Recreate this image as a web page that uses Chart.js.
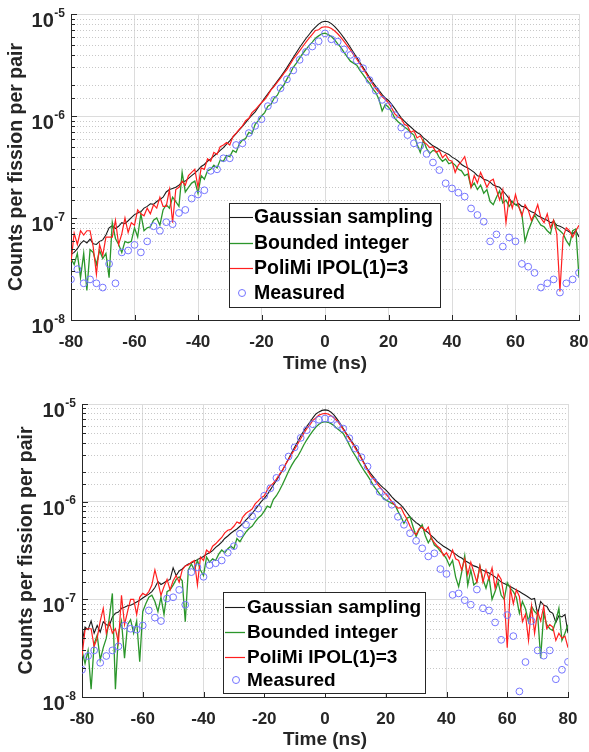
<!DOCTYPE html>
<html>
<head>
<meta charset="utf-8">
<script src="https://cdn.jsdelivr.net/npm/chart.js@4.4.0/dist/chart.umd.min.js"></script>
<style>
  body { margin: 0; background: #fff; width: 589px; height: 752px; overflow: hidden; }
  .panel { position: absolute; left: 0; width: 589px; height: 376px; }
</style>
</head>
<body>
<div class="panel" style="top:0"><canvas id="topChart" width="589" height="376"></canvas></div>
<div class="panel" style="top:376px"><canvas id="bottomChart" width="589" height="376"></canvas></div>
<script>
// ---------- DATA ----------
// simulated curves, 1 ns bins
const timeFine = [
  -80, -79, -78, -77, -76, -75, -74, -73, -72, -71,
  -70, -69, -68, -67, -66, -65, -64, -63, -62, -61,
  -60, -59, -58, -57, -56, -55, -54, -53, -52, -51,
  -50, -49, -48, -47, -46, -45, -44, -43, -42, -41,
  -40, -39, -38, -37, -36, -35, -34, -33, -32, -31,
  -30, -29, -28, -27, -26, -25, -24, -23, -22, -21,
  -20, -19, -18, -17, -16, -15, -14, -13, -12, -11,
  -10, -9, -8, -7, -6, -5, -4, -3, -2, -1,
  0,
  1, 2, 3, 4, 5, 6, 7, 8, 9, 10,
  11, 12, 13, 14, 15, 16, 17, 18, 19, 20,
  21, 22, 23, 24, 25, 26, 27, 28, 29, 30,
  31, 32, 33, 34, 35, 36, 37, 38, 39, 40,
  41, 42, 43, 44, 45, 46, 47, 48, 49, 50,
  51, 52, 53, 54, 55, 56, 57, 58, 59, 60,
  61, 62, 63, 64, 65, 66, 67, 68, 69, 70,
  71, 72, 73, 74, 75, 76, 77, 78, 79, 80
];
// measured, 2 ns bins
const timeMeas = [
  -80, -78, -76, -74, -72, -70, -68, -66, -64, -62,
  -60, -58, -56, -54, -52, -50, -48, -46, -44, -42,
  -40, -38, -36, -34, -32, -30, -28, -26, -24, -22,
  -20, -18, -16, -14, -12, -10, -8, -6, -4, -2,
  0,
  2, 4, 6, 8, 10, 12, 14, 16, 18, 20,
  22, 24, 26, 28, 30, 32, 34, 36, 38, 40,
  42, 44, 46, 48, 50, 52, 54, 56, 58, 60,
  62, 64, 66, 68, 70, 72, 74, 76, 78, 80
];

const xTicks = [-80, -60, -40, -20, 0, 20, 40, 60, 80];
const yDecades = [1e-8, 1e-7, 1e-6, 1e-5];
const seriesNames = ["Gaussian sampling", "Bounded integer", "PoliMi IPOL(1)=3", "Measured"];

// top panel
const gaussTop = [
  4.4e-8, 4.6e-8, 5.0e-8, 5.6e-8, 6.0e-8, 5.7e-8, 6.2e-8, 5.6e-8, 5.5e-8, 5.9e-8,
  6.1e-8, 6.8e-8, 8.0e-8, 8.4e-8, 7.9e-8, 8.3e-8, 9.0e-8, 8.8e-8, 9.4e-8, 1.01e-7,
  1.08e-7, 1.12e-7, 1.15e-7, 1.25e-7, 1.3e-7, 1.38e-7, 1.36e-7, 1.45e-7, 1.52e-7, 1.6e-7,
  1.8e-7, 1.9e-7, 1.95e-7, 2.0e-7, 2.1e-7, 2.25e-7, 2.3e-7, 2.45e-7, 2.6e-7, 2.75e-7,
  2.95e-7, 3.2e-7, 3.35e-7, 3.6e-7, 3.8e-7, 4.05e-7, 4.3e-7, 4.6e-7, 4.9e-7, 5.3e-7,
  5.7e-7, 6.2e-7, 6.7e-7, 7.3e-7, 7.9e-7, 8.6e-7, 9.4e-7, 1.02e-6, 1.1e-6, 1.22e-6,
  1.35e-6, 1.5e-6, 1.65e-6, 1.82e-6, 2.0e-6, 2.2e-6, 2.42e-6, 2.68e-6, 2.98e-6, 3.35e-6,
  3.75e-6, 4.2e-6, 4.7e-6, 5.2e-6, 5.75e-6, 6.3e-6, 6.9e-6, 7.45e-6, 7.95e-6, 8.35e-6,
  8.5e-6,
  8.4e-6, 8.05e-6, 7.55e-6, 7.0e-6, 6.4e-6, 5.8e-6, 5.25e-6, 4.7e-6, 4.2e-6, 3.75e-6,
  3.35e-6, 3.0e-6, 2.68e-6, 2.4e-6, 2.15e-6, 1.95e-6, 1.78e-6, 1.62e-6, 1.5e-6, 1.42e-6,
  1.3e-6, 1.18e-6, 1.06e-6, 9.6e-7, 8.9e-7, 8.3e-7, 7.8e-7, 7.3e-7, 6.9e-7, 6.6e-7,
  6.1e-7, 5.8e-7, 5.4e-7, 5.1e-7, 4.9e-7, 4.7e-7, 4.5e-7, 4.35e-7, 4.2e-7, 3.95e-7,
  3.8e-7, 3.6e-7, 3.35e-7, 3.2e-7, 3.1e-7, 2.95e-7, 2.8e-7, 2.6e-7, 2.55e-7, 2.4e-7,
  2.35e-7, 2.25e-7, 2.1e-7, 2.05e-7, 2.0e-7, 1.85e-7, 1.7e-7, 1.55e-7, 1.42e-7, 1.35e-7,
  1.38e-7, 1.3e-7, 1.28e-7, 1.2e-7, 1.15e-7, 1.12e-7, 1.05e-7, 1.02e-7, 9.8e-8, 9.5e-8,
  9.0e-8, 9.2e-8, 8.5e-8, 8.3e-8, 8.0e-8, 7.6e-8, 7.3e-8, 7.0e-8, 7.5e-8, 6.5e-8
];
const boundedTop = [
  4.0e-8, 3.5e-8, 4.5e-8, 2.6e-8, 4.5e-8, 1.95e-8, 4.9e-8, 4.6e-8, 3.5e-8, 4.8e-8,
  4.0e-8, 4.5e-8, 2.6e-8, 9.0e-8, 6.3e-8, 5.5e-8, 4.6e-8, 5.9e-8, 5.7e-8, 5.9e-8,
  8.0e-8, 6.5e-8, 1.1e-7, 7.5e-8, 8.0e-8, 8.2e-8, 9.5e-8, 1.0e-7, 8.5e-8, 1.2e-7,
  1.35e-7, 1.25e-7, 1.6e-7, 1.45e-7, 1.3e-7, 2.8e-7, 1.8e-7, 2.0e-7, 2.2e-7, 2.3e-7,
  1.75e-7, 2.6e-7, 2.4e-7, 2.9e-7, 3.0e-7, 3.3e-7, 3.1e-7, 3.7e-7, 3.6e-7, 4.1e-7,
  4.0e-7, 4.6e-7, 4.4e-7, 5.3e-7, 5.8e-7, 6.0e-7, 6.9e-7, 6.7e-7, 8.3e-7, 9.0e-7,
  1.0e-6, 1.08e-6, 1.25e-6, 1.3e-6, 1.5e-6, 1.6e-6, 1.85e-6, 2.0e-6, 2.3e-6, 2.6e-6,
  3.0e-6, 3.3e-6, 3.7e-6, 4.1e-6, 4.5e-6, 4.9e-6, 5.3e-6, 5.8e-6, 6.1e-6, 6.4e-6,
  6.5e-6,
  6.3e-6, 6.0e-6, 5.6e-6, 5.1e-6, 4.7e-6, 4.2e-6, 3.8e-6, 3.45e-6, 3.3e-6, 3.15e-6,
  2.8e-6, 2.55e-6, 2.3e-6, 2.1e-6, 1.85e-6, 1.7e-6, 1.45e-6, 1.12e-6, 1.3e-6, 1.22e-6,
  1.1e-6, 9.5e-7, 8.8e-7, 8.3e-7, 7.8e-7, 7.4e-7, 6.9e-7, 6.5e-7, 5.3e-7, 4.4e-7,
  5.8e-7, 4.8e-7, 4.3e-7, 4.6e-7, 4.5e-7, 3.9e-7, 3.6e-7, 3.8e-7, 3.4e-7, 3.5e-7,
  3.3e-7, 3.0e-7, 2.9e-7, 2.6e-7, 2.7e-7, 2.0e-7, 2.2e-7, 1.9e-7, 2.1e-7, 1.75e-7,
  1.9e-7, 1.45e-7, 1.35e-7, 1.6e-7, 1.85e-7, 1.4e-7, 1.5e-7, 1.3e-7, 1.45e-7, 1.35e-7,
  1.3e-7, 1.1e-7, 5.9e-8, 7.5e-8, 9.0e-8, 1.07e-7, 9.5e-8, 8.5e-8, 8.2e-8, 7.5e-8,
  7.0e-8, 9.5e-8, 8.0e-8, 7.5e-8, 7.0e-8, 6.0e-8, 5.4e-8, 7.5e-8, 7.8e-8, 2.6e-8
];
const polimiTop = [
  3.7e-8, 7.1e-8, 5.5e-8, 7.5e-8, 6.8e-8, 7.5e-8, 7.5e-8, 5.2e-8, 2.8e-8, 5.5e-8,
  4.3e-8, 6.5e-8, 6.5e-8, 6.5e-8, 9.5e-8, 5.5e-8, 7.0e-8, 1.0e-7, 7.2e-8, 9.0e-8,
  8.5e-8, 1.2e-7, 1.1e-7, 1.05e-7, 1.25e-7, 1.1e-7, 1.35e-7, 1.25e-7, 1.6e-7, 1.3e-7,
  1.3e-7, 1.9e-7, 9.0e-8, 1.9e-7, 2.0e-7, 2.3e-7, 2.1e-7, 2.6e-7, 2.8e-7, 3.0e-7,
  2.0e-7, 3.1e-7, 3.0e-7, 3.8e-7, 3.6e-7, 4.4e-7, 4.2e-7, 5.0e-7, 5.2e-7, 5.5e-7,
  5.2e-7, 6.3e-7, 6.8e-7, 7.4e-7, 8.0e-7, 9.0e-7, 9.5e-7, 1.08e-6, 1.15e-6, 1.25e-6,
  1.35e-6, 1.45e-6, 1.6e-6, 1.8e-6, 1.95e-6, 2.15e-6, 2.35e-6, 2.6e-6, 2.85e-6, 3.2e-6,
  3.6e-6, 3.95e-6, 4.35e-6, 4.8e-6, 5.3e-6, 5.8e-6, 6.3e-6, 6.9e-6, 7.0e-6, 7.4e-6,
  7.5e-6,
  7.45e-6, 7.2e-6, 6.85e-6, 6.4e-6, 5.9e-6, 5.4e-6, 4.9e-6, 4.45e-6, 4.0e-6, 3.6e-6,
  3.25e-6, 2.9e-6, 2.6e-6, 2.3e-6, 2.05e-6, 1.85e-6, 1.7e-6, 1.55e-6, 1.45e-6, 1.35e-6,
  1.2e-6, 1.05e-6, 9.8e-7, 9.4e-7, 8.3e-7, 8.0e-7, 6.9e-7, 7.2e-7, 6.1e-7, 6.4e-7,
  5.6e-7, 5.3e-7, 4.9e-7, 5.0e-7, 4.4e-7, 4.6e-7, 3.9e-7, 4.2e-7, 3.7e-7, 3.6e-7,
  2.8e-7, 3.3e-7, 3.6e-7, 4.0e-7, 3.0e-7, 2.0e-7, 2.6e-7, 2.2e-7, 2.8e-7, 2.4e-7,
  2.0e-7, 2.3e-7, 2.4e-7, 1.9e-7, 1.5e-7, 1.9e-7, 9.0e-8, 1.6e-7, 1.25e-7, 1.7e-7,
  1.3e-7, 1.05e-7, 1.35e-7, 1.2e-7, 9.5e-8, 1.1e-7, 1.35e-7, 1.0e-7, 9.0e-8, 1.1e-7,
  8.0e-8, 9.5e-8, 7.0e-8, 1.9e-8, 6.5e-8, 8.0e-8, 7.5e-8, 6.5e-8, 7.5e-8, 8.5e-8
];
const measuredTop = [
  2.5e-8, 3.15e-8, 2.29e-8, 2.5e-8, 2.29e-8, 2.08e-8, 3.55e-8, 2.29e-8, 4.6e-8, 4.8e-8,
  5.45e-8, 4.6e-8, 5.9e-8, 8.3e-8, 7.5e-8, 9.1e-8, 8.7e-8, 1.12e-7, 1.2e-7, 1.55e-7,
  1.7e-7, 1.87e-7, 2.9e-7, 3.0e-7, 3.85e-7, 3.85e-7, 5.2e-7, 5.4e-7, 6.8e-7, 8.0e-7,
  9.3e-7, 1.25e-6, 1.44e-6, 1.87e-6, 2.29e-6, 2.8e-6, 3.55e-6, 4.25e-6, 4.8e-6, 5.4e-6,
  6.45e-6,
  5.65e-6, 5.36e-6, 4.5e-6, 3.97e-6, 3.5e-6, 2.94e-6, 2.25e-6, 1.77e-6, 1.44e-6, 1.25e-6,
  1.02e-6, 7.7e-7, 6.5e-7, 5.4e-7, 5.1e-7, 4.25e-7, 3.5e-7, 2.95e-7, 2.19e-7, 1.95e-7,
  1.77e-7, 1.62e-7, 1.24e-7, 1.07e-7, 9.2e-8, 5.9e-8, 6.9e-8, 5.25e-8, 6.45e-8, 5.9e-8,
  3.55e-8, 3.33e-8, 2.9e-8, 2.08e-8, 2.29e-8, 2.5e-8, 1.86e-8, 2.29e-8, 2.5e-8, 2.9e-8
];

// bottom panel
const gaussBottom = [
  3.6e-8, 5.2e-8, 4.9e-8, 6.0e-8, 4.5e-8, 5.4e-8, 4.6e-8, 5.9e-8, 5.5e-8, 5.4e-8,
  6.6e-8, 7.2e-8, 7.4e-8, 8.1e-8, 8.3e-8, 8.6e-8, 8.7e-8, 9.0e-8, 9.4e-8, 9.8e-8,
  1.03e-7, 1.08e-7, 1.13e-7, 1.2e-7, 1.32e-7, 1.52e-7, 1.42e-7, 1.48e-7, 1.55e-7, 1.6e-7,
  2.1e-7, 1.75e-7, 1.95e-7, 2.05e-7, 2.2e-7, 2.3e-7, 2.35e-7, 2.45e-7, 2.55e-7, 2.65e-7,
  2.75e-7, 2.9e-7, 3.0e-7, 3.15e-7, 3.4e-7, 3.6e-7, 3.85e-7, 4.2e-7, 4.45e-7, 4.75e-7,
  5.0e-7, 5.25e-7, 5.6e-7, 6.0e-7, 6.5e-7, 7.0e-7, 7.6e-7, 8.3e-7, 9.1e-7, 1.0e-6,
  1.08e-6, 1.18e-6, 1.32e-6, 1.48e-6, 1.65e-6, 1.85e-6, 2.1e-6, 2.4e-6, 2.75e-6, 3.15e-6,
  3.6e-6, 4.1e-6, 4.7e-6, 5.3e-6, 5.9e-6, 6.5e-6, 7.2e-6, 7.9e-6, 8.3e-6, 8.6e-6,
  8.7e-6,
  8.6e-6, 8.25e-6, 7.7e-6, 7.0e-6, 6.3e-6, 5.6e-6, 5.0e-6, 4.5e-6, 4.05e-6, 3.65e-6,
  3.2e-6, 2.8e-6, 2.45e-6, 2.15e-6, 1.95e-6, 1.78e-6, 1.62e-6, 1.5e-6, 1.4e-6, 1.32e-6,
  1.22e-6, 1.12e-6, 1.04e-6, 9.8e-7, 9.2e-7, 8.5e-7, 7.7e-7, 7.0e-7, 6.5e-7, 6.1e-7,
  5.8e-7, 5.4e-7, 5.1e-7, 4.8e-7, 4.5e-7, 4.2e-7, 3.9e-7, 3.7e-7, 3.5e-7, 3.35e-7,
  3.2e-7, 3.05e-7, 2.9e-7, 2.75e-7, 2.65e-7, 2.5e-7, 2.4e-7, 2.3e-7, 2.2e-7, 2.15e-7,
  2.05e-7, 1.98e-7, 1.92e-7, 1.86e-7, 1.78e-7, 1.7e-7, 1.6e-7, 1.5e-7, 1.45e-7, 1.4e-7,
  1.35e-7, 1.3e-7, 1.25e-7, 1.2e-7, 1.15e-7, 1.1e-7, 1.05e-7, 1.0e-7, 1.02e-7, 7.0e-8,
  9.5e-8, 8.7e-8, 8.5e-8, 7.5e-8, 7.2e-8, 5.8e-8, 6.8e-8, 6.6e-8, 7.0e-8, 4.5e-8
];
const boundedBottom = [
  3.0e-8, 2.2e-8, 3.0e-8, 1.2e-8, 3.5e-8, 4.3e-8, 2.4e-8, 3.2e-8, 4.0e-8, 6.5e-8,
  1.15e-7, 1.2e-8, 4.5e-8, 6.0e-8, 2.5e-8, 5.5e-8, 6.2e-8, 4.5e-8, 6.0e-8, 2.3e-8,
  7.5e-8, 9.0e-8, 1.05e-7, 1.1e-7, 9.5e-8, 7.5e-8, 1.05e-7, 7.0e-8, 1.2e-7, 1.25e-7,
  1.4e-7, 1.6e-7, 1.7e-7, 1.55e-7, 5.9e-8, 2.0e-7, 2.3e-7, 2.0e-7, 2.5e-7, 2.0e-7,
  1.75e-7, 2.7e-7, 2.4e-7, 2.6e-7, 2.5e-7, 2.9e-7, 3.2e-7, 3.0e-7, 3.3e-7, 3.5e-7,
  3.3e-7, 4.2e-7, 3.9e-7, 4.4e-7, 4.9e-7, 5.3e-7, 5.6e-7, 6.2e-7, 6.8e-7, 7.2e-7,
  8.0e-7, 9.0e-7, 8.7e-7, 1.05e-6, 1.15e-6, 1.3e-6, 1.5e-6, 1.75e-6, 2.05e-6, 2.35e-6,
  2.65e-6, 2.9e-6, 3.3e-6, 3.8e-6, 4.3e-6, 4.8e-6, 5.3e-6, 5.8e-6, 6.2e-6, 6.5e-6,
  6.6e-6,
  6.5e-6, 6.3e-6, 6.0e-6, 5.6e-6, 5.3e-6, 5.0e-6, 4.4e-6, 3.8e-6, 3.3e-6, 2.95e-6,
  2.6e-6, 2.3e-6, 2.05e-6, 1.85e-6, 1.65e-6, 1.45e-6, 1.32e-6, 1.2e-6, 1.1e-6, 1.04e-6,
  1.0e-6, 9.6e-7, 9.3e-7, 8.0e-7, 7.0e-7, 6.0e-7, 6.8e-7, 7.0e-7, 5.5e-7, 4.4e-7,
  5.2e-7, 5.8e-7, 4.5e-7, 3.8e-7, 4.3e-7, 3.6e-7, 3.4e-7, 3.1e-7, 2.9e-7, 2.6e-7,
  2.2e-7, 2.5e-7, 1.7e-7, 1.35e-7, 1.9e-7, 2.8e-7, 1.4e-7, 2.0e-7, 1.4e-7, 1.5e-7,
  2.2e-7, 1.6e-7, 1.3e-7, 1.7e-7, 1.0e-7, 1.2e-7, 1.5e-7, 1.1e-7, 1.0e-7, 1.48e-7,
  1.3e-7, 1.2e-7, 1.05e-7, 7.2e-8, 9.5e-8, 8.0e-8, 5.9e-8, 8.5e-8, 7.5e-8, 7.0e-8,
  2.5e-8, 7.2e-8, 5.5e-8, 5.0e-8, 4.8e-8, 6.0e-8, 8.1e-8, 3.8e-8, 4.5e-8, 5.5e-8
];
const polimiBottom = [
  2.6e-8, 4.9e-8, 5.0e-8, 5.0e-8, 3.3e-8, 4.0e-8, 6.0e-8, 8.1e-8, 4.5e-8, 5.8e-8,
  4.5e-8, 5.0e-8, 3.6e-8, 1.1e-7, 5.5e-8, 7.5e-8, 1.0e-7, 1.0e-7, 7.0e-8, 1.05e-7,
  1.15e-7, 1.1e-7, 1.2e-7, 1.4e-7, 2.0e-7, 1.5e-7, 1.1e-7, 1.35e-7, 1.6e-7, 1.25e-7,
  1.55e-7, 1.75e-7, 1.5e-7, 2.0e-7, 2.2e-7, 2.25e-7, 2.4e-7, 2.5e-7, 1.4e-7, 2.7e-7,
  2.5e-7, 3.2e-7, 3.0e-7, 3.5e-7, 3.7e-7, 4.0e-7, 4.3e-7, 4.8e-7, 5.1e-7, 5.2e-7,
  5.6e-7, 6.2e-7, 6.0e-7, 7.0e-7, 7.6e-7, 8.0e-7, 8.4e-7, 9.5e-7, 1.02e-6, 1.1e-6,
  1.15e-6, 1.32e-6, 1.45e-6, 1.55e-6, 1.7e-6, 1.9e-6, 2.1e-6, 2.4e-6, 2.7e-6, 3.05e-6,
  3.45e-6, 3.9e-6, 4.4e-6, 5.0e-6, 5.6e-6, 6.1e-6, 6.8e-6, 7.2e-6, 7.7e-6, 7.9e-6,
  8.0e-6,
  7.9e-6, 7.6e-6, 7.2e-6, 6.7e-6, 6.1e-6, 5.5e-6, 4.9e-6, 4.4e-6, 3.95e-6, 3.5e-6,
  3.1e-6, 2.75e-6, 2.4e-6, 2.1e-6, 1.85e-6, 1.7e-6, 1.55e-6, 1.42e-6, 1.3e-6, 1.2e-6,
  1.1e-6, 1.0e-6, 9.2e-7, 8.6e-7, 8.7e-7, 7.5e-7, 6.6e-7, 5.6e-7, 4.9e-7, 4.6e-7,
  5.3e-7, 5.5e-7, 5.0e-7, 5.5e-7, 4.2e-7, 3.8e-7, 3.5e-7, 3.3e-7, 2.8e-7, 3.0e-7,
  2.6e-7, 3.2e-7, 2.6e-7, 2.5e-7, 2.0e-7, 2.6e-7, 1.8e-7, 2.4e-7, 1.9e-7, 1.5e-7,
  2.2e-7, 1.5e-7, 2.0e-7, 1.6e-7, 2.1e-7, 1.3e-7, 1.8e-7, 1.6e-7, 1.05e-7, 3.2e-8,
  1.3e-7, 9.0e-8, 1.25e-7, 1.07e-7, 5.9e-8, 7.0e-8, 3.8e-8, 8.5e-8, 4.5e-8, 7.5e-8,
  6.0e-8, 8.5e-8, 5.0e-8, 5.5e-8, 5.2e-8, 3.8e-8, 4.5e-8, 4.0e-8, 4.2e-8, 3.2e-8
];
const measuredBottom = [
  1.9e-8, 2.63e-8, 3.0e-8, 2.24e-8, 2.63e-8, 3.0e-8, 3.3e-8, 5.4e-8, 5.0e-8, 4.9e-8,
  5.4e-8, 7.7e-8, 6.5e-8, 6.0e-8, 1.02e-7, 1.05e-7, 1.25e-7, 8.8e-8, 1.9e-7, 2.13e-7,
  1.7e-7, 2.24e-7, 2.34e-7, 2.5e-7, 3.0e-7, 3.5e-7, 4.7e-7, 5.8e-7, 7.1e-7, 8.5e-7,
  1.15e-6, 1.37e-6, 1.75e-6, 2.2e-6, 2.9e-6, 3.6e-6, 4.5e-6, 5.4e-6, 6.2e-6, 6.9e-6,
  7.1e-6,
  6.97e-6, 6.1e-6, 5.6e-6, 4.46e-6, 3.5e-6, 2.85e-6, 2.29e-6, 1.6e-6, 1.26e-6, 1.12e-6,
  9.3e-7, 7.0e-7, 5.8e-7, 4.75e-7, 3.97e-7, 3.33e-7, 2.75e-7, 2.96e-7, 2.04e-7, 1.82e-7,
  1.11e-7, 1.15e-7, 9.8e-8, 8.8e-8, 1.26e-7, 8.1e-8, 7.7e-8, 5.8e-8, 3.85e-8, 6.9e-8,
  4.2e-8, 1.14e-8, 2.28e-8, 6.0e-8, 3.0e-8, 2.65e-8, 3.0e-8, 1.52e-8, 1.9e-8, 2.29e-8
];

// ---------- STYLE ----------
const FONT = "'Liberation Sans', Arial, Helvetica, sans-serif";
const INK = "#262626";
const colors = ["#1a1a1a", "#2b962b", "#ff1f1f", "#7474ff"];
const lineWidths = [1.1, 1.3, 1.2];

const isDecade = v => Math.abs(Math.log10(v) - Math.round(Math.log10(v))) < 1e-6;
const pairs = (xs, ys) => xs.map((x, i) => ({ x, y: ys[i] }));

// ---------- PLUGIN: matlab-ish decorations ----------
const decorPlugin = {
    id: "decor",
    beforeDatasetsDraw(chart) {
        const { ctx, chartArea: a, scales: { y } } = chart;
        ctx.save();
        ctx.strokeStyle = "#c8c8c8";
        ctx.lineWidth = 1;
        ctx.setLineDash([1, 2]);
        y.ticks.forEach(t => {
            if (isDecade(t.value)) return;
            const py = Math.round(y.getPixelForValue(t.value)) + 0.5;
            ctx.beginPath();
            ctx.moveTo(a.left, py);
            ctx.lineTo(a.right, py);
            ctx.stroke();
        });
        ctx.restore();
    },
    afterDatasetsDraw(chart, args, opts) {
        const { ctx, chartArea: a, scales: { x, y } } = chart;
        ctx.save();
        // inward ticks
        ctx.strokeStyle = INK;
        ctx.lineWidth = 1;
        xTicks.forEach(v => {
            const px = Math.round(x.getPixelForValue(v)) + 0.5;
            ctx.beginPath();
            ctx.moveTo(px, a.bottom);
            ctx.lineTo(px, a.bottom - 5);
            ctx.stroke();
        });
        y.ticks.forEach(t => {
            const py = Math.round(y.getPixelForValue(t.value)) + 0.5;
            ctx.beginPath();
            ctx.moveTo(a.left, py);
            ctx.lineTo(a.left + (isDecade(t.value) ? 6 : 4), py);
            ctx.stroke();
        });

        // legend box
        const L = opts.legend;
        ctx.fillStyle = "#fff";
        ctx.fillRect(L.x, L.y, L.w, L.h);
        ctx.strokeStyle = INK;
        ctx.strokeRect(L.x + 0.5, L.y + 0.5, L.w, L.h);
        ctx.font = `bold ${L.font}px ${FONT}`;
        ctx.textBaseline = "middle";
        ctx.textAlign = "left";
        chart.data.datasets.forEach((ds, i) => {
            const cy = L.y + L.rows[i];
            ctx.strokeStyle = ds.borderColor;
            if (ds.showLine === false) {
                ctx.lineWidth = 1;
                ctx.beginPath();
                ctx.arc(L.x + L.mark, cy, 3.5, 0, Math.PI * 2);
                ctx.stroke();
            } else {
                ctx.lineWidth = ds.borderWidth;
                ctx.beginPath();
                ctx.moveTo(L.x + L.line[0], cy + 0.5);
                ctx.lineTo(L.x + L.line[1], cy + 0.5);
                ctx.stroke();
            }
            ctx.fillStyle = "#000";
            ctx.fillText(ds.label, L.x + L.text, cy + 1);
        });
        ctx.restore();
    },
    afterDraw(chart) {
        // y tick labels as 10 with raised exponent
        const { ctx, chartArea: a, scales: { y } } = chart;
        ctx.save();
        ctx.fillStyle = INK;
        ctx.textAlign = "right";
        ctx.textBaseline = "alphabetic";
        yDecades.forEach(v => {
            const py = y.getPixelForValue(v);
            const exp = String(Math.round(Math.log10(v)));
            ctx.font = `bold 12px ${FONT}`;
            const ew = ctx.measureText(exp).width;
            ctx.fillText(exp, a.left - 6, py + 2.5);
            ctx.font = `bold 20px ${FONT}`;
            ctx.fillText("10", a.left - 6 - ew - 0.5, py + 13);
        });
        ctx.restore();
    }
};

// ---------- CHARTS ----------
function makeChart(id, series, layout) {
    const datasets = series.slice(0, 3).map((vals, i) => ({
        label: seriesNames[i],
        data: pairs(timeFine, vals),
        borderColor: colors[i],
        borderWidth: lineWidths[i],
        pointRadius: 0,
        tension: 0,
        fill: false,
        order: 3 - i
    }));
    datasets.push({
        label: seriesNames[3],
        data: pairs(timeMeas, series[3]),
        showLine: false,
        borderColor: colors[3],
        backgroundColor: "rgba(0,0,0,0)",
        borderWidth: 1,
        pointRadius: 3.4,
        pointStyle: "circle",
        order: 0
    });

    return new Chart(document.getElementById(id), {
        type: "line",
        data: { datasets },
        plugins: [decorPlugin],
        options: {
            responsive: false,
            animation: false,
            devicePixelRatio: 1,
            layout: { padding: { left: 0, right: layout.padRight, top: layout.padTop, bottom: 0 } },
            plugins: {
                legend: { display: false },
                tooltip: { enabled: false },
                decor: { legend: layout.legend }
            },
            scales: {
                x: {
                    type: "linear",
                    min: -80,
                    max: 80,
                    afterBuildTicks: s => { s.ticks = xTicks.map(v => ({ value: v })); },
                    afterFit: s => {
                        s.height = layout.xHeight;
                        s.paddingLeft = 0;
                        s.paddingRight = 0;
                    },
                    grid: { color: "#dcdcdc", drawTicks: false, tickLength: 0 },
                    border: { color: INK, width: 1 },
                    ticks: {
                        color: INK,
                        padding: 12,
                        font: { family: FONT, size: 17, weight: "bold" }
                    },
                    title: {
                        display: true,
                        text: "Time (ns)",
                        color: INK,
                        font: { family: FONT, size: 19, weight: "bold" },
                        padding: { top: 0, bottom: 1 }
                    }
                },
                y: {
                    type: "logarithmic",
                    min: 1e-8,
                    max: 1e-5,
                    afterFit: s => {
                        s.width = layout.yWidth;
                        s.paddingTop = 0;
                        s.paddingBottom = 0;
                    },
                    grid: {
                        color: c => (c.tick && isDecade(c.tick.value) ? "#dcdcdc" : "rgba(0,0,0,0)"),
                        drawTicks: false,
                        tickLength: 0
                    },
                    border: { color: INK, width: 1 },
                    ticks: { display: false },
                    title: {
                        display: true,
                        text: "Counts per fission per pair",
                        color: INK,
                        font: { family: FONT, size: 19.5, weight: "bold" },
                        padding: { top: layout.yTitlePad, bottom: 0 }
                    }
                }
            }
        }
    });
}

makeChart("topChart", [gaussTop, boundedTop, polimiTop, measuredTop], {
    padRight: 10, padTop: 14, yWidth: 71, xHeight: 56, yTitlePad: 5,
    legend: { x: 229, y: 203, w: 211, h: 104, rows: [14, 40, 65, 90], line: [1, 24], mark: 13, text: 25, font: 19.5 }
});
makeChart("bottomChart", [gaussBottom, boundedBottom, polimiBottom, measuredBottom], {
    padRight: 21, padTop: 28, yWidth: 82, xHeight: 55, yTitlePad: 15,
    legend: { x: 223, y: 216, w: 202, h: 101, rows: [15, 40, 65, 88], line: [2, 22], mark: 13, text: 24, font: 19 }
});
</script>
</body>
</html>
